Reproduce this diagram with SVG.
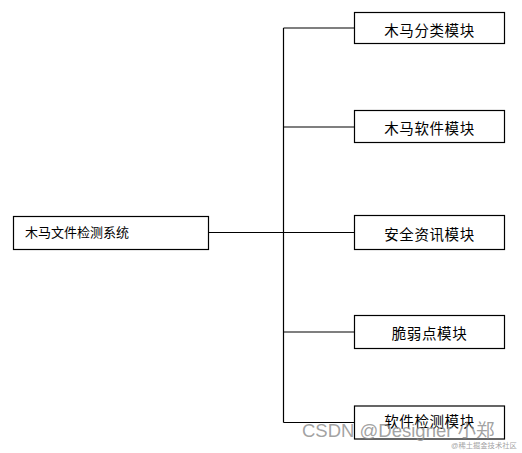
<svg xmlns="http://www.w3.org/2000/svg" width="522" height="453" viewBox="0 0 522 453">
<style>
.box{fill:#fff;stroke:#000;stroke-width:1.2}
.lbl{font-family:"Noto Sans CJK SC","Noto Sans",sans-serif;font-size:14.5px;fill:#000;letter-spacing:0.6px}
.c{text-anchor:middle;dominant-baseline:central}
.wm{font-family:"Liberation Sans","Noto Sans CJK SC",sans-serif;fill:#8a8a8a;fill-opacity:0.8}
</style>
<rect width="522" height="453" fill="#fff"/>
<g id="connectors" fill="none" stroke="#000" stroke-width="1.2">
<line x1="283.5" y1="28" x2="283.5" y2="422.5"/>
<line x1="208" y1="232.5" x2="283.5" y2="232.5"/>
<line x1="283.5" y1="28" x2="354" y2="28"/>
<line x1="283.5" y1="127" x2="354" y2="127"/>
<line x1="283.5" y1="232.5" x2="354" y2="232.5"/>
<line x1="283.5" y1="332" x2="354" y2="332"/>
<line x1="283.5" y1="422.5" x2="354" y2="422.5"/>
</g>
<g id="root">
<rect class="box" x="13.5" y="216.5" width="195" height="33"/>
<text class="lbl" x="25" y="231" dominant-baseline="central" style="font-size:13px;letter-spacing:0">木马文件检测系统</text>
</g>
<g id="n1">
<rect class="box" x="354.5" y="12.5" width="150" height="31"/>
<text class="lbl c" x="429.5" y="29">木马分类模块</text>
</g>
<g id="n2">
<rect class="box" x="354.5" y="110.5" width="150" height="32"/>
<text class="lbl c" x="429.5" y="127.5">木马软件模块</text>
</g>
<g id="n3">
<rect class="box" x="354.5" y="215.5" width="150" height="34"/>
<text class="lbl c" x="429.5" y="233">安全资讯模块</text>
</g>
<g id="n4">
<rect class="box" x="354.5" y="315.5" width="150" height="33"/>
<text class="lbl c" x="429.5" y="332.5">脆弱点模块</text>
</g>
<g id="n5">
<rect class="box" x="354.5" y="406" width="150" height="33"/>
<text class="lbl c" x="429.5" y="420">软件检测模块</text>
</g>
<g id="watermark">
<text class="wm" x="302" y="437" font-size="18.5">CSDN @Designer 小郑</text>
<text class="wm" x="451" y="447.5" font-size="7.3">@稀土掘金技术社区</text>
</g>
</svg>
